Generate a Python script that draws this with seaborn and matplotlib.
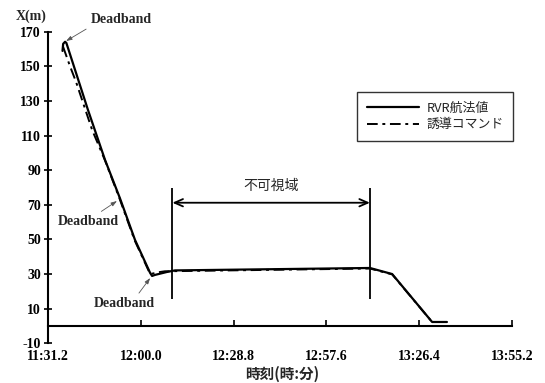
import matplotlib
matplotlib.use("Agg")
import matplotlib.pyplot as plt
import pandas as pd
import seaborn as sns

# Time axis is in minutes after midnight; X is the along-track distance in metres.
rvr_time = [695.7, 695.9, 696.5, 696.9, 703.6, 708.9, 713.5, 718.2, 722.9, 723.5,
            724.4, 728.1, 730.6, 791.1, 798.0, 810.4, 815.0]
rvr_x = [158.9, 163.0, 164.2, 163.5, 124.8, 95.9, 73.9, 49.7, 30.6, 28.9,
         29.5, 31.2, 32.1, 33.5, 30.0, 2.3, 2.3]

cmd_time = [695.9, 698.0, 699.9, 704.9, 708.9, 713.4, 718.1, 722.9, 726.0, 727.5,
            791.1, 798.0, 810.4, 815.0]
cmd_x = [161.2, 150.2, 141.0, 113.2, 95.6, 73.6, 49.4, 30.0, 31.2, 31.6,
         33.2, 29.8, 2.3, 2.3]

series_names = ["RVR航法値", "誘導コマンド"]

xtick_values = [691.2, 720.0, 748.8, 777.6, 806.4, 835.2]
xtick_labels = ["11:31.2", "12:00.0", "12:28.8", "12:57.6", "13:26.4", "13:55.2"]
ytick_values = [-10, 10, 30, 50, 70, 90, 110, 130, 150, 170]

# Invisible-region bracket (start, end) and deadband notes
blind_start, blind_end = 729.8, 791.1
deadband_notes = [
    # text position, arrow tip, arrow start on text box
    ((713.9, 176.8), (696.8, 164.6), (0.0, 0.0)),
    ((703.6, 60.1), (712.6, 72.2), (0.62, 1.0)),
    ((714.8, 12.7), (722.9, 27.7), (0.69, 1.0)),
]

sns.set_theme(style="white")
plt.rcParams["font.family"] = ["Liberation Serif", "DejaVu Sans"]
CJK = ["Noto Sans CJK JP", "DejaVu Sans"]

rvr = pd.DataFrame({"time": rvr_time, "x": rvr_x})
cmd = pd.DataFrame({"time": cmd_time, "x": cmd_x})

fig = plt.figure(figsize=(5.45, 3.83), dpi=100)
ax = fig.add_axes([0.0881, 0.1037, 0.8514, 0.8135])

sns.lineplot(data=rvr, x="time", y="x", ax=ax, sort=False, estimator=None,
             color="black", lw=1.6, label=series_names[0], zorder=3)
sns.lineplot(data=cmd, x="time", y="x", ax=ax, sort=False, estimator=None,
             color="black", lw=1.4, linestyle=(0, (5.5, 2.4, 1.5, 2.4)),
             label=series_names[1], zorder=4)

ax.set_xlim(xtick_values[0], xtick_values[-1])
ax.set_ylim(-10, 170)
ax.set_xticks(xtick_values)
ax.set_xticklabels(xtick_labels)
ax.set_yticks(ytick_values)
ax.set_yticklabels([str(v) for v in ytick_values])

for side in ("top", "right"):
    ax.spines[side].set_visible(False)
ax.spines["left"].set_color("black")
ax.spines["left"].set_linewidth(1.5)
ax.spines["bottom"].set_color("black")
ax.spines["bottom"].set_linewidth(1.5)
ax.spines["bottom"].set_position(("data", 0))

ax.tick_params(axis="y", direction="inout", length=6, width=1.2, color="black",
               left=True, pad=2, labelsize=10)
ax.tick_params(axis="x", direction="in", length=4, width=1.2, color="black",
               bottom=True, pad=17, labelsize=10)
for lbl in ax.get_xticklabels() + ax.get_yticklabels():
    lbl.set_fontweight("bold")
    lbl.set_color("black")

ax.set_xlabel("時刻(時:分)", family=CJK, fontweight="bold", fontsize=10.5)
ax.xaxis.set_label_coords(0.504, -0.072)
ax.set_ylabel("")
ax.text(-0.037, 1.05, "X(m)", transform=ax.transAxes, ha="center", va="center",
        fontweight="bold", fontsize=10)

# Invisible region bracket
ax.vlines([blind_start, blind_end], 15.6, 79.7, color="black", lw=1.3, zorder=5)
ax.annotate("", xy=(blind_start, 71.2), xytext=(blind_end, 71.2),
            arrowprops=dict(arrowstyle="<->,head_length=0.5,head_width=0.22",
                            color="black", lw=1.3, shrinkA=0, shrinkB=0))
ax.text((blind_start + blind_end) / 2, 80.9, "不可視域", family=CJK,
        ha="center", va="center", fontsize=10)

for (tx, ty), (px, py), rel in deadband_notes:
    ax.annotate("Deadband", xy=(px, py), xytext=(tx, ty), ha="center", va="center",
                fontweight="bold", fontsize=10,
                arrowprops=dict(arrowstyle="-|>,head_length=0.35,head_width=0.12",
                                color="#555555", lw=0.6, relpos=rel,
                                shrinkA=1, shrinkB=0))

leg = ax.legend(loc="upper right", bbox_to_anchor=(1.003, 0.807), borderaxespad=0,
                prop={"family": CJK, "size": 9.3}, frameon=True, fancybox=False,
                handlelength=4.0, handletextpad=0.6, borderpad=0.75,
                labelspacing=0.3)
leg.get_frame().set_edgecolor("black")
leg.get_frame().set_linewidth(1.0)

fig.savefig("out.png", dpi=100)
